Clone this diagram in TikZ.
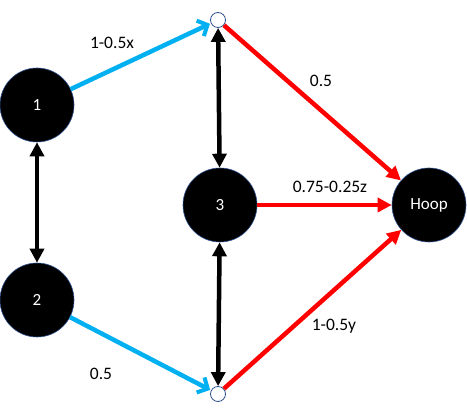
\documentclass[tikz,border=0pt]{standalone}
\usepackage{fontspec}
\setmainfont{Carlito}
\usetikzlibrary{arrows.meta}
\definecolor{cblue}{HTML}{00B0F0}
\definecolor{cred}{HTML}{FF0000}
\definecolor{cedge}{HTML}{2F528F}
\begin{document}
\begin{tikzpicture}[x=1pt,y=-1pt,
  bignode/.style={circle,fill=black,draw=cedge,line width=0.6pt,minimum size=74pt,inner sep=0pt,text=white,font=\fontsize{17}{20}\selectfont},
  junction/.style={circle,fill=white,draw=cedge,line width=0.8pt,minimum size=15pt,inner sep=0pt},
  bluearrow/.style={cblue,line width=4.5pt,-{Straight Barb[length=8pt,width=17pt,line width=4pt]},shorten >=1pt},
  redarrow/.style={cred,line width=4.5pt,-{Triangle[length=14pt,width=14pt]}},
  blackarrow/.style={black,line width=4.5pt,{Triangle[length=14pt,width=14pt]}-{Triangle[length=14pt,width=14pt]}},
  lbl/.style={font=\fontsize{17.5}{20}\selectfont,inner sep=0pt}]
\useasboundingbox (0,0) rectangle (467,414);
\node[bignode] (n1) at (37,105) {1};
\node[bignode] (n2) at (37,300) {2};
\node[bignode] (n3) at (220,205) {3};
\node[bignode] (hoop) at (429,205) {Hoop};
\node[junction] (jt) at (218,20) {};
\node[junction] (jb) at (218,394) {};
\draw[bluearrow] (n1) -- (jt);
\draw[bluearrow] (n2) -- (jb);
\draw[redarrow] (jt) -- (hoop);
\draw[redarrow] (n3) -- (hoop);
\draw[redarrow] (jb) -- (hoop);
\draw[blackarrow] (n1) -- (n2);
\draw[blackarrow] (jt) -- (n3);
\draw[blackarrow] (n3) -- (jb);
\node[lbl] (l1) at (112,43) {1-0.5x};
\node[lbl] (l2) at (321,81) {0.5};
\node[lbl] (l3) at (330,187) {0.75-0.25z};
\node[lbl] (l4) at (334,326) {1-0.5y};
\node[lbl] (l5) at (101,374) {0.5};
\end{tikzpicture}
\end{document}
